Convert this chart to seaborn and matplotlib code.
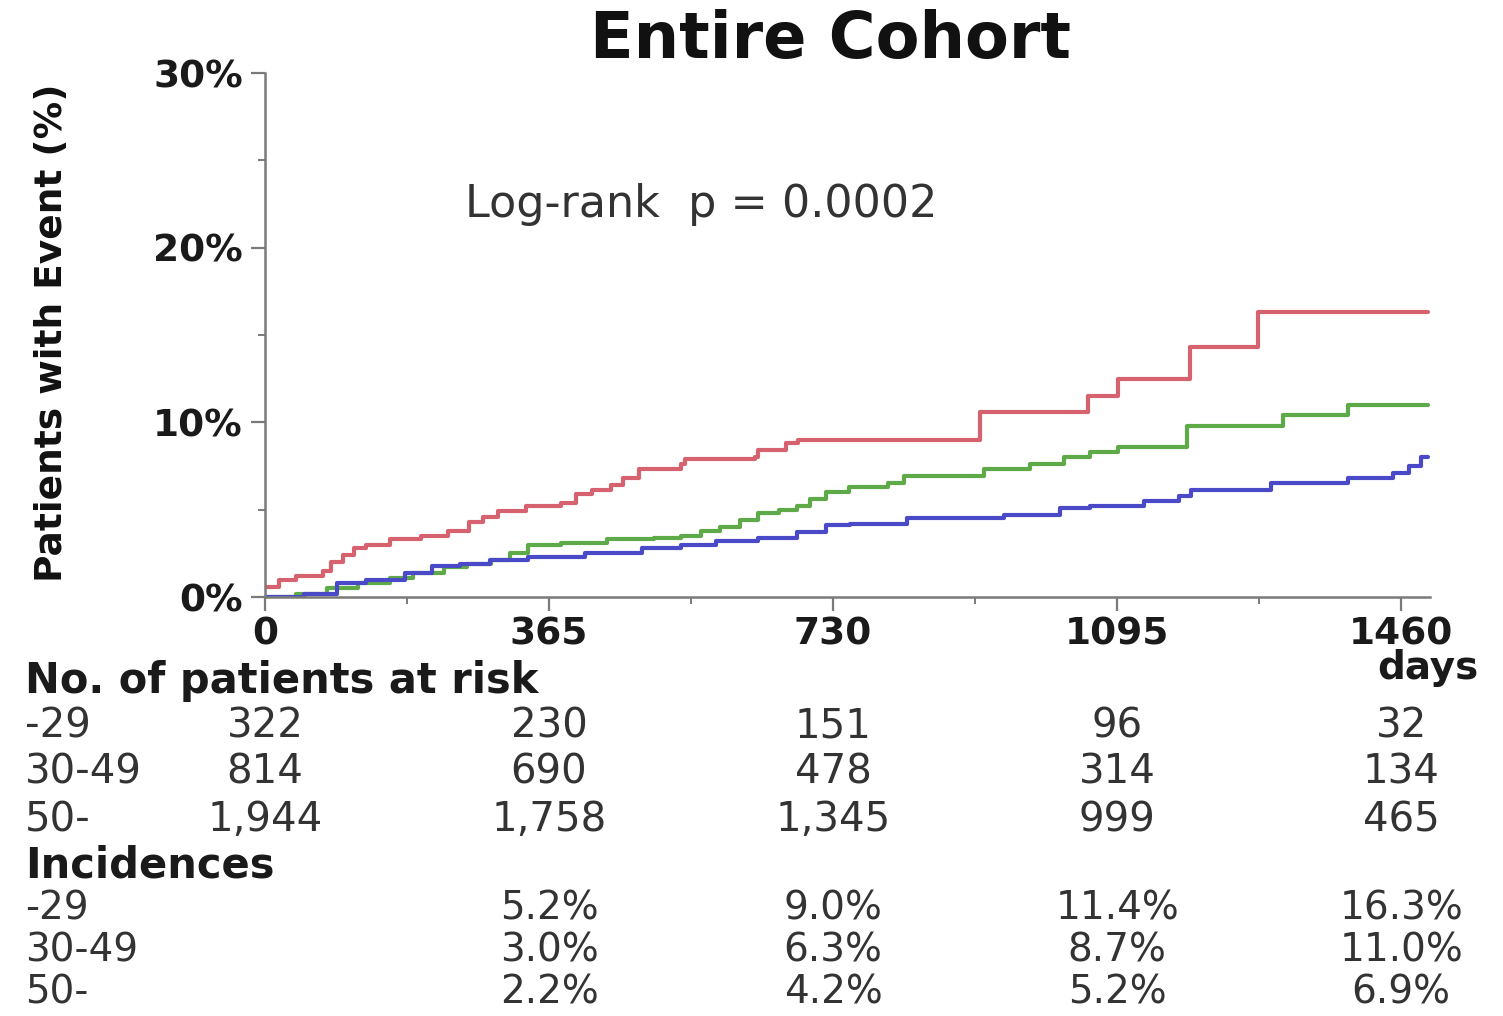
import numpy as np
import pandas as pd
import matplotlib
matplotlib.use("Agg")
import matplotlib.pyplot as plt
import matplotlib.transforms as mtransforms
from matplotlib.ticker import FixedLocator
import seaborn as sns

# ---------------- data ----------------
groups = ["-29", "30-49", "50-"]

red_days = [0, 18, 40, 75, 85, 100, 115, 130, 160, 200, 235, 262, 280, 300, 335, 380, 400,
            420, 445, 460, 480, 535, 540, 630, 634, 670, 685, 919, 1057, 1096, 1188, 1276, 1495]
red_pct = [0.6, 1.0, 1.2, 1.5, 2.0, 2.4, 2.8, 3.0, 3.3, 3.5, 3.8, 4.3, 4.6, 4.9, 5.2, 5.4, 5.9,
           6.1, 6.4, 6.8, 7.3, 7.6, 7.9, 8.0, 8.4, 8.8, 9.0, 10.6, 11.5, 12.5, 14.3, 16.3, 16.3]

green_days = [0, 40, 80, 120, 160, 190, 230, 260, 290, 315, 338, 380, 440, 500, 535, 560, 585,
              610, 633, 660, 683, 700, 721, 750, 801, 821, 924, 983, 1027, 1060, 1096, 1185,
              1308, 1392, 1495]
green_pct = [0.0, 0.2, 0.5, 0.8, 1.1, 1.4, 1.7, 1.9, 2.1, 2.5, 3.0, 3.1, 3.3, 3.4, 3.5, 3.8, 4.0,
             4.4, 4.8, 5.0, 5.2, 5.6, 6.0, 6.3, 6.5, 6.9, 7.3, 7.6, 8.0, 8.3, 8.6, 9.8,
             10.4, 11.0, 11.0]

blue_days = [0, 50, 92, 130, 180, 215, 250, 289, 338, 411, 485, 535, 580, 633, 683, 721, 752,
             825, 949, 1022, 1060, 1130, 1175, 1190, 1293, 1392, 1450, 1470, 1485, 1495]
blue_pct = [0.0, 0.2, 0.8, 1.0, 1.4, 1.75, 1.9, 2.1, 2.3, 2.5, 2.8, 3.0, 3.2, 3.4, 3.7, 4.1, 4.2,
            4.5, 4.7, 5.1, 5.2, 5.5, 5.8, 6.1, 6.5, 6.8, 7.1, 7.5, 8.0, 8.0]

colors = ["#d6626f", "#5eaa48", "#4a4ac8"]

x_ticks = [0, 365, 730, 1095, 1460]
x_tick_labels = ["0", "365", "730", "1095", "1460"]
y_ticks = [0, 10, 20, 30]
y_tick_labels = ["0%", "10%", "20%", "30%"]

at_risk = {
    "-29": ["322", "230", "151", "96", "32"],
    "30-49": ["814", "690", "478", "314", "134"],
    "50-": ["1,944", "1,758", "1,345", "999", "465"],
}
incid_days = [365, 730, 1095, 1460]
incidences = {
    "-29": ["5.2%", "9.0%", "11.4%", "16.3%"],
    "30-49": ["3.0%", "6.3%", "8.7%", "11.0%"],
    "50-": ["2.2%", "4.2%", "5.2%", "6.9%"],
}

title = "Entire Cohort"
ylabel = "Patients with Event (%)"
pval_text = "Log-rank  p = 0.0002"

# ---------------- build frame ----------------
df = pd.concat([
    pd.DataFrame({"days": red_days, "pct": red_pct, "group": groups[0]}),
    pd.DataFrame({"days": green_days, "pct": green_pct, "group": groups[1]}),
    pd.DataFrame({"days": blue_days, "pct": blue_pct, "group": groups[2]}),
], ignore_index=True)

sns.set_style("ticks")
plt.rcParams["font.family"] = ["DejaVu Sans"]

W, H = 1503, 1016
fig = plt.figure(figsize=(W / 100, H / 100), dpi=100)
fig.patch.set_facecolor("white")

ax = fig.add_axes([265 / W, 1 - 597 / H, (1430 - 265) / W, (597 - 73) / H])

sns.lineplot(data=df, x="days", y="pct", hue="group", hue_order=groups,
             palette=colors, drawstyle="steps-post", estimator=None, sort=False,
             linewidth=3.0, legend=False, ax=ax)

ax.set_xlim(0, 1497)
ax.set_ylim(0, 30)
ax.set_xlabel("")
ax.set_ylabel("")

sns.despine(ax=ax)
for s in ["left", "bottom"]:
    ax.spines[s].set_color("#7a7a7a")
    ax.spines[s].set_linewidth(1.8)

ax.xaxis.set_major_locator(FixedLocator(x_ticks))
ax.xaxis.set_minor_locator(FixedLocator([182.5, 547.5, 912.5, 1277.5]))
ax.set_xticklabels(x_tick_labels, fontsize=27, fontweight="bold", color="#1a1a1a")
ax.yaxis.set_major_locator(FixedLocator(y_ticks))
ax.yaxis.set_minor_locator(FixedLocator([5, 15, 25]))
ax.set_yticklabels(y_tick_labels, fontsize=27, fontweight="bold", color="#1a1a1a")
ax.tick_params(axis="both", which="major", length=10, width=1.6, color="#7a7a7a", direction="out")
ax.tick_params(axis="both", which="minor", length=5, width=1.4, color="#7a7a7a", direction="out")
ax.tick_params(axis="x", which="major", pad=4)
ax.tick_params(axis="y", which="major", pad=6)

# title, y-label, p-value
fig.text(831 / W, 1 - 40 / H, title, ha="center", va="center", fontsize=46,
         fontweight="bold", color="#111111")
fig.text(52 / W, 1 - 333 / H, ylabel, ha="center", va="center", rotation=90,
         fontsize=27, fontweight="bold", color="#111111")
fig.text(465 / W, 1 - 205 / H, pval_text, ha="left", va="center", fontsize=32,
         color="#333333")
fig.text(1428 / W, 1 - 668 / H, "days", ha="center", va="center", fontsize=28,
         fontweight="bold", color="#1a1a1a")

# table
trans = mtransforms.blended_transform_factory(ax.transData, fig.transFigure)
left_x = 25 / W
fig.text(left_x, 1 - 681 / H, "No. of patients at risk", ha="left", va="center",
         fontsize=30, fontweight="bold", color="#1a1a1a")
risk_rows_y = [727, 773, 820]
for g, yy in zip(groups, risk_rows_y):
    fig.text(left_x, 1 - yy / H, g, ha="left", va="center", fontsize=29, color="#333333")
    for d, v in zip(x_ticks, at_risk[g]):
        ax.text(d, 1 - yy / H, v, transform=trans, ha="center", va="center",
                fontsize=29, color="#333333")

fig.text(left_x, 1 - 866 / H, "Incidences", ha="left", va="center",
         fontsize=30, fontweight="bold", color="#1a1a1a")
inc_rows_y = [908, 951, 993]
for g, yy in zip(groups, inc_rows_y):
    fig.text(left_x, 1 - yy / H, g, ha="left", va="center", fontsize=28, color="#333333")
    for d, v in zip(incid_days, incidences[g]):
        ax.text(d, 1 - yy / H, v, transform=trans, ha="center", va="center",
                fontsize=28, color="#333333")

fig.savefig("out.png", dpi=100, facecolor="white")
